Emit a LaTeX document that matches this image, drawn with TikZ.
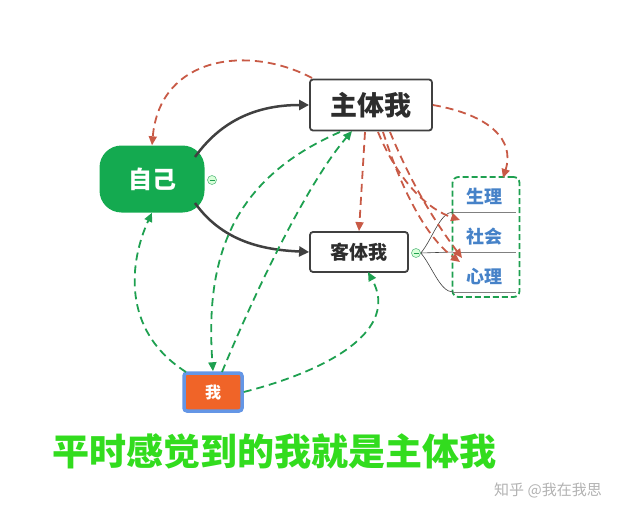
\documentclass[tikz,border=0pt]{standalone}
\usepackage{fontspec}
\setmainfont{Noto Sans CJK SC}
\usetikzlibrary{arrows.meta}
\definecolor{dg}{RGB}{64,64,64}
\definecolor{rd}{RGB}{200,90,70}
\definecolor{gd}{RGB}{30,160,80}
\definecolor{selfg}{RGB}{20,170,80}
\definecolor{bl}{RGB}{70,130,200}
\definecolor{org}{RGB}{240,100,40}
\definecolor{wb}{RGB}{100,150,230}
\definecolor{bt}{RGB}{50,220,30}
\tikzset{x=1pt,y=-1pt,
 box/.style={draw=dg,line width=1.8pt,rounded corners=3pt,fill=white,inner sep=0pt},
 solidarr/.style={draw=dg,line width=2.5pt,-{Triangle[length=10pt,width=10pt]}},
 redarr/.style={draw=rd,line width=1.8pt,dash pattern=on 8pt off 5pt,-{Triangle[length=9pt,width=8pt]}},
 grnarr/.style={draw=gd,line width=1.8pt,dash pattern=on 8pt off 5pt,-{Triangle[length=9pt,width=8pt]}},
 fold/.style={circle,draw=gd!70,fill=green!15,minimum size=9pt,inner sep=0pt,line width=0.6pt},
 item/.style={text=bl,font=\bfseries\fontsize{18}{20}\selectfont}}
\begin{document}
\begin{tikzpicture}
\useasboundingbox (0,0) rectangle (631,516);
\node[fill=selfg,rounded corners=22pt,minimum width=105pt,minimum height=67pt,text=white,font=\bfseries\fontsize{24}{26}\selectfont] (self) at (152,179) {自己};
\node[fold] (c1) at (212,180) {};
\draw[gd,line width=1pt] (209.5,180)--(214.5,180);
\node[box,minimum width=122pt,minimum height=51pt,font=\bfseries\fontsize{27}{29}\selectfont,text=dg!70!black] (sub) at (371,105) {主体我};
\node[box,minimum width=98pt,minimum height=40pt,font=\bfseries\fontsize{19}{21}\selectfont,text=dg!70!black] (obj) at (359,252) {客体我};
\node[fold] (c2) at (416,253) {};
\draw[gd,line width=1pt] (413.5,253)--(418.5,253);
\node[draw=gd,line width=1.8pt,dash pattern=on 6pt off 3pt,rounded corners=6pt,minimum width=67pt,minimum height=120pt] (grp) at (486,237) {};
\node[item] (i1) at (484,196) {生理};
\node[item] (i2) at (484,237) {社会};
\node[item] (i3) at (484,277) {心理};
\foreach \y in {212,252,292}{\draw[gray,line width=0.8pt] (453,\y)--(516,\y);}
\coordinate (l1) at (453,212); \coordinate (l2) at (453,252); \coordinate (l3) at (453,292);
\draw[dg,line width=0.6pt] (c2.east) .. controls (432,240) and (440,212) .. (l1);
\draw[dg,line width=0.6pt] (c2.east) -- (l2);
\draw[dg,line width=0.6pt] (c2.east) .. controls (432,266) and (440,292) .. (l3);
\node[fill=org,draw=wb,line width=3.5pt,rounded corners=3pt,minimum width=58pt,minimum height=38pt,text=white,font=\bfseries\fontsize{16}{18}\selectfont] (me) at (213,392) {我};
\node[text=bt,font=\bfseries\fontsize{37}{39}\selectfont] (cap) at (274,451) {平时感觉到的我就是主体我};
\node[text=gray!60,font=\fontsize{15}{17}\selectfont] (wm) at (548,490) {知乎 @我在我思};
% solid
\draw[solidarr] (195,157) .. controls (225,115) and (265,105) .. (sub.west);
\draw[solidarr] (195,203) .. controls (225,245) and (270,250) .. (obj.west);
% red
\draw[redarr] (312,78) .. controls (250,45) and (160,55) .. (self.north);
\draw[redarr] (sub.east) .. controls (490,115) and (515,140) .. (503,178);
\draw[redarr] (365,132) -- (obj.north);
\draw[redarr] (378,132) .. controls (400,185) and (430,210) .. (460,220);
\draw[redarr] (383,132) .. controls (405,200) and (430,240) .. (460,262);
\draw[redarr] (390,132) .. controls (410,180) and (430,215) .. (462,258);
% green
\draw[grnarr] (186,372) .. controls (120,330) and (130,260) .. (self.south);
\draw[grnarr] (340,132) .. controls (230,180) and (205,260) .. (me.north);
\draw[grnarr] (222,372) .. controls (260,280) and (310,180) .. (352,131);
\draw[grnarr] (me.east) .. controls (330,370) and (400,330) .. (368,272);
\end{tikzpicture}
\end{document}
